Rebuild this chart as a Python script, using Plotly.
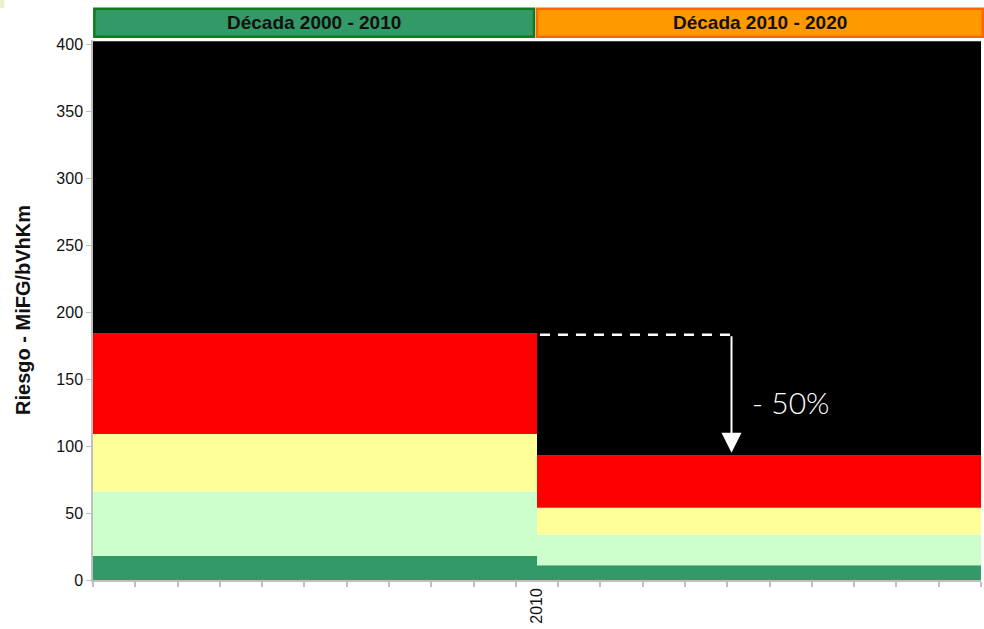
import plotly.graph_objects as go

# Decades (headers) and step breakpoints on the year axis
decades = ["Década 2000 - 2010", "Década 2010 - 2020"]
years = list(range(2000, 2021))
breaks = [1999.5, 2010, 2020.5]

# Cumulative layer tops per decade (MiFG/bVhKm)
layer_names = ["Aceptable", "Tolerable", "Moderado", "Importante", "Intolerable"]
layer_colors = ["#339966", "#CCFFCC", "#FFFF99", "#FF0000", "#000000"]
tops_d1 = [18, 66, 109, 184, 402]
tops_d2 = [11, 34, 54, 93, 402]

# reduction annotation
reduction_text = "- 50%"

fig = go.Figure()
prev1, prev2 = 0, 0
for name, color, t1, t2 in zip(layer_names, layer_colors, tops_d1, tops_d2):
    v1, v2 = t1 - prev1, t2 - prev2
    prev1, prev2 = t1, t2
    fig.add_trace(go.Scatter(
        x=breaks,
        y=[v1, v2, v2],
        name=name,
        mode="lines",
        line=dict(width=0, shape="hv", color=color),
        fillcolor=color,
        stackgroup="risk",
        hoverinfo="skip",
        showlegend=False
    ))

# dashed reference at decade-1 level, then arrow down to decade-2 level
x_arrow = 2014.6
fig.add_shape(type="line", x0=2010.07, x1=x_arrow, y0=tops_d1[3] - 1, y1=tops_d1[3] - 1,
              line=dict(color="white", width=2.5, dash="10px,8px"), layer="above")
fig.add_annotation(x=x_arrow, y=tops_d2[3] + 2, ax=x_arrow, ay=tops_d1[3] - 1,
                   xref="x", yref="y", axref="x", ayref="y",
                   showarrow=True, arrowhead=2, arrowsize=2, arrowwidth=2,
                   arrowcolor="white", text="")
fig.add_annotation(x=2016.0, y=133, xref="x", yref="y", showarrow=False,
                   text=reduction_text,
                   font=dict(family="Lato", size=30, color="white", weight=300))

# decade header boxes
header_style = [("#339966", "#0B7D1C", 0.0015, 0.4966), ("#FF9900", "#FF6600", 0.5, 1.002)]
for label, (fill, border, x0, x1) in zip(decades, header_style):
    fig.add_shape(type="rect", xref="paper", yref="paper", x0=x0, x1=x1,
                  y0=1.006, y1=1.058, fillcolor=fill,
                  line=dict(color=border, width=2.5))
    fig.add_annotation(xref="paper", yref="paper", x=(x0 + x1) / 2, y=1.032,
                       xanchor="center", yanchor="middle",
                       text="<b>%s</b>" % label, showarrow=False,
                       font=dict(family="Liberation Sans", size=19, color="#111111"))

# small mark in the top-left corner
fig.add_shape(type="rect", xref="paper", yref="paper", x0=-0.1044, x1=-0.1, y0=1.059, y1=1.075,
              fillcolor="#E6F0C4", line=dict(width=0))

fig.update_layout(
    width=984,
    height=629,
    paper_bgcolor="white",
    plot_bgcolor="white",
    font=dict(family="Liberation Sans", color="#111111", size=16),
    margin=dict(l=93, r=3, t=40, b=49),
    showlegend=False,
    xaxis=dict(
        range=[breaks[0], breaks[-1]],
        tickvals=[2010],
        ticktext=["2010"],
        tickangle=-90,
        ticks="outside",
        ticklen=0,
        showgrid=False,
        zeroline=False,
        showline=True,
        linecolor="#BFBFBF",
        linewidth=1.5,
        minor=dict(ticks="outside", tick0=1999.5, dtick=1, ticklen=5,
                   tickcolor="#BFBFBF", tickwidth=1.5, showgrid=False),
        tickfont=dict(size=16),
        automargin=False
    ),
    yaxis=dict(
        range=[0, 403],
        tickvals=list(range(0, 401, 50)),
        ticks="outside",
        ticklen=5,
        tickcolor="#BFBFBF",
        showgrid=False,
        zeroline=False,
        showline=True,
        linecolor="#BFBFBF",
        linewidth=1.5,
        title=dict(text="<b>Riesgo - MiFG/bVhKm</b>", font=dict(size=20), standoff=20),
        tickfont=dict(size=16),
        automargin=False
    )
)

fig.write_html("out.html", config={"displayModeBar": False},
               post_script="document.body.style.margin='0';")
